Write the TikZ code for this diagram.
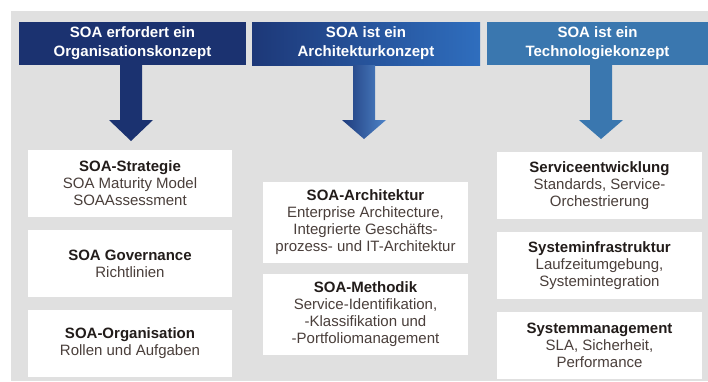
\documentclass[tikz,border=0pt]{standalone}
\usepackage{fontspec}
\setmainfont{Liberation Sans}
\definecolor{bggray}{HTML}{E0E0E0}
\definecolor{navy}{HTML}{1B3270}
\definecolor{midblue}{HTML}{2F6EBE}
\definecolor{steel}{HTML}{3A77AF}
\definecolor{titlec}{HTML}{221C1A}
\definecolor{bodyc}{HTML}{4A3F3B}
\begin{document}
\begin{tikzpicture}[x=1pt,y=-1pt,
    hdr/.style={minimum height=43pt,inner sep=0pt,text=white,align=center,
      font=\fontsize{15}{19}\selectfont\bfseries},
    box/.style={fill=white,minimum width=205pt,inner sep=0pt,align=center,
      text=bodyc,font=\fontsize{15}{17}\selectfont}]
  \useasboundingbox (0,0) rectangle (708,381);
  \fill[bggray] (11,11) rectangle (708,381);
  % headers
  \draw
    (132.5,43.5) node[hdr,fill=navy,minimum width=227pt] (h1) {SOA erfordert ein\\Organisationskonzept}
    (366,43.5) node[hdr,left color=navy!90!midblue,right color=midblue,minimum width=228pt] (h2) {SOA ist ein\\Architekturkonzept}
    (597.5,43.5) node[hdr,fill=steel,minimum width=221pt] (h3) {SOA ist ein\\Technologiekonzept};
  % arrow tips
  \coordinate (t1) at (131,141);
  \coordinate (t2) at (364,139);
  \coordinate (t3) at (601,139);
  \coordinate (s1) at (t1 |- h1.south);
  \coordinate (s2) at (t2 |- h2.south);
  \coordinate (s3) at (t3 |- h3.south);
  \fill[navy] ([xshift=-11pt]s1) -- ([xshift=-11pt,yshift=21pt]t1) -- ([xshift=-22pt,yshift=21pt]t1) -- (t1)
    -- ([xshift=22pt,yshift=21pt]t1) -- ([xshift=11pt,yshift=21pt]t1) -- ([xshift=11pt]s1) -- cycle;
  \shade[left color=navy!85!midblue,right color=midblue!85!white] ([xshift=-11pt]s2) -- ([xshift=-11pt,yshift=19pt]t2) -- ([xshift=-22pt,yshift=19pt]t2) -- (t2)
    -- ([xshift=22pt,yshift=19pt]t2) -- ([xshift=11pt,yshift=19pt]t2) -- ([xshift=11pt]s2) -- cycle;
  \fill[steel] ([xshift=-11pt]s3) -- ([xshift=-11pt,yshift=19pt]t3) -- ([xshift=-22pt,yshift=19pt]t3) -- (t3)
    -- ([xshift=22pt,yshift=19pt]t3) -- ([xshift=11pt,yshift=19pt]t3) -- ([xshift=11pt]s3) -- cycle;
  % boxes
  \draw
    (130,183.5) node[box,minimum width=204pt,minimum height=67pt] (a1) {\textcolor{titlec}{\textbf{SOA-Strategie}}\\SOA Maturity Model\\SOAAssessment}
    (130,263.5) node[box,minimum width=204pt,minimum height=67pt] (a2) {\textcolor{titlec}{\textbf{SOA Governance}}\\Richtlinien}
    (130,343.5) node[box,minimum width=204pt,minimum height=67pt] (a3) {\textcolor{titlec}{\textbf{SOA-Organisation}}\\Rollen und Aufgaben}
    (365.5,222.5) node[box,minimum height=81pt] (b1) {\textcolor{titlec}{\textbf{SOA-Architektur}}\\Enterprise Architecture,\\Integrierte Geschäfts-\\prozess- und IT-Architektur}
    (365.5,314.5) node[box,minimum height=81pt] (b2) {\textcolor{titlec}{\textbf{SOA-Methodik}}\\Service-Identifikation,\\-Klassifikation und\\-Portfoliomanagement}
    (599.5,185.5) node[box,minimum height=67pt] (c1) {\textcolor{titlec}{\textbf{Serviceentwicklung}}\\Standards, Service-\\Orchestrierung}
    (599.5,265.5) node[box,minimum height=67pt] (c2) {\textcolor{titlec}{\textbf{Systeminfrastruktur}}\\Laufzeitumgebung,\\Systemintegration}
    (599.5,345.5) node[box,minimum height=67pt] (c3) {\textcolor{titlec}{\textbf{Systemmanagement}}\\SLA, Sicherheit,\\Performance};
\end{tikzpicture}
\end{document}
